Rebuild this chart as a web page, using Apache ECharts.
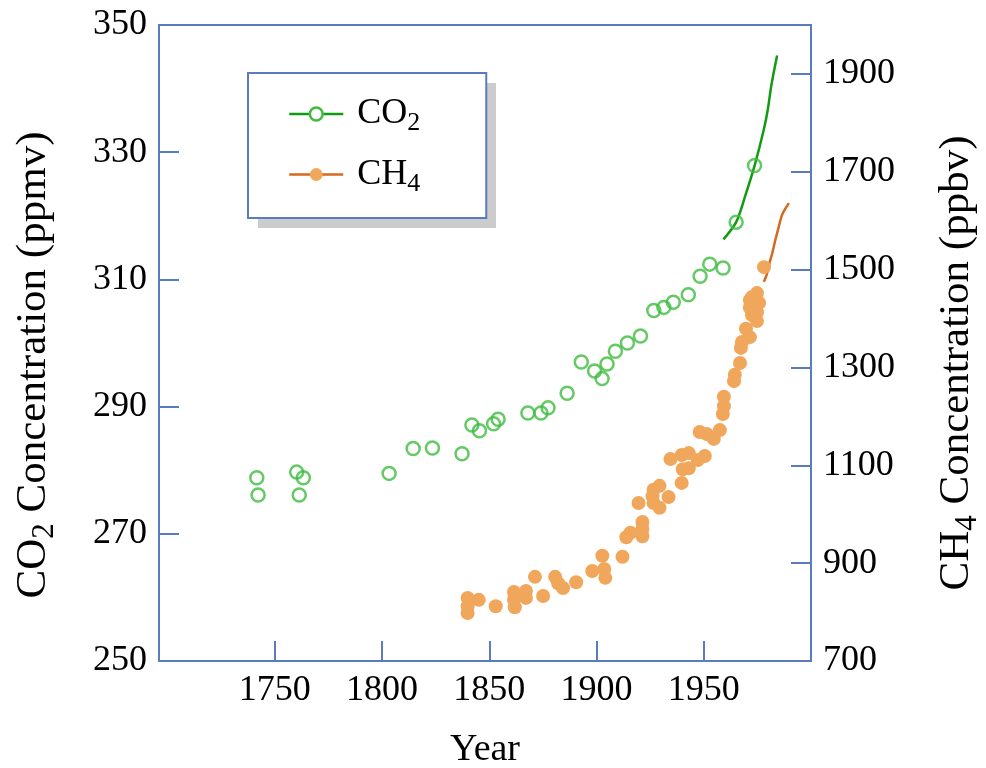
<!DOCTYPE html>
<html><head><meta charset="utf-8">
<script src="https://cdn.jsdelivr.net/npm/echarts@6/dist/echarts.min.js"></script>
<style>html,body{margin:0;padding:0;background:#fff}#c{width:986px;height:768px}</style>
</head><body><div id="c"></div>
<script>
// ---- data ----
const xTickYears = [1750, 1800, 1850, 1900, 1950];
const co2TickValues = [250, 270, 290, 310, 330, 350];
const ch4TickValues = [700, 900, 1100, 1300, 1500, 1700, 1900];

const co2Points = [[1741.6,278.8],[1742.2,276.1],[1760.2,279.7],[1763.3,278.8],[1761.4,276.1],[1803.3,279.5],[1814.5,283.4],[1823.5,283.5],[1837.3,282.6],[1841.9,287.1],[1845.4,286.2],[1852.0,287.3],[1854.1,288.0],[1868.0,289.0],[1874.1,289.0],[1877.4,289.8],[1886.3,292.1],[1892.9,297.0],[1899.1,295.6],[1902.6,294.4],[1904.9,296.7],[1908.8,298.7],[1914.4,300.0],[1920.5,301.1],[1926.7,305.1],[1931.4,305.6],[1935.8,306.4],[1942.8,307.6],[1948.3,310.5],[1952.8,312.4],[1959.0,311.8],[1965.1,319.0],[1973.7,327.9]];

const co2Line = [[1959.2,316.3],[1965.1,319.0],[1969.3,323.1],[1973.7,327.9],[1977.9,333.4],[1979.9,336.8],[1981.5,340.5],[1984.2,345.2]];

const ch4Points = [[1839.9,829],[1839.9,812],[1839.9,798],[1845.1,825],[1853.0,812],[1861.5,841],[1861.5,825],[1861.9,810],[1867.1,843],[1867.1,829],[1871.3,872],[1875.1,833],[1880.7,872],[1882.1,859],[1884.4,849],[1890.5,861],[1898.0,884],[1902.7,915],[1903.6,888],[1904.1,870],[1912.1,913],[1913.9,953],[1915.8,962],[1919.6,1023],[1921.4,984],[1921.4,970],[1921.4,955],[1926.1,1037],[1926.6,1050],[1926.6,1023],[1929.4,1058],[1929.4,1013],[1933.6,1035],[1934.5,1113],[1939.7,1121],[1939.7,1064],[1940.2,1092],[1943.0,1094],[1943.0,1125],[1947.2,1111],[1950.5,1119],[1948.1,1168],[1951.4,1164],[1954.7,1154],[1957.5,1172],[1958.9,1205],[1959.4,1221],[1959.4,1240],[1964.1,1272],[1964.5,1285],[1966.9,1309],[1967.3,1340],[1967.8,1352],[1969.7,1379],[1971.5,1362],[1974.8,1395],[1972.5,1407],[1974.8,1413],[1971.5,1422],[1973.4,1428],[1975.8,1432],[1971.5,1438],[1972.5,1444],[1974.8,1452],[1978.1,1505]];

const ch4Line = [[1978.0,1475],[1979.5,1492],[1980.6,1513],[1981.9,1533],[1983.4,1561],[1985.0,1588],[1986.5,1612],[1988.1,1625],[1989.7,1636]];

// ---- styling ----
const FONT = '"Liberation Serif", "DejaVu Serif", serif';
const AXIS = '#5b7bc0';
const CO2_LINE = '#139a13';
const CO2_MARK = '#3fbb3f';
const CH4_LINE = '#d4691f';
const CH4_MARK = '#f0a75c';
const plain = v => String(v);

const chart = echarts.init(document.getElementById('c'), null, {renderer: 'canvas'});
const sub = {fontSize: 26, fontFamily: FONT, color: '#000', padding: [19, 0, 0, 0]};
const main = {fontSize: 36, fontFamily: FONT, color: '#000'};
const titleRich = {
  b: {fontSize: 43, fontFamily: FONT, color: '#000'},
  s: {fontSize: 31, fontFamily: FONT, color: '#000', padding: [22, 0, 0, 0]}
};

chart.setOption({
  animation: false,
  backgroundColor: '#fff',
  grid: {left: 159, right: 175, top: 25, bottom: 107, containLabel: false, outerBoundsMode: 'none',
         show: true, borderColor: AXIS, borderWidth: 2, backgroundColor: 'transparent'},
  graphic: [
    {type: 'rect', left: 258, top: 83, shape: {width: 238, height: 145}, style: {fill: '#cccccc'}, z: 1, silent: true}
  ],
  legend: {
    orient: 'vertical', left: 248, top: 73, z: 5,
    selectedMode: false,
    data: [
      {name: 'CO2', itemStyle: {color: '#fff', borderColor: CO2_MARK, borderWidth: 2.5}, lineStyle: {color: CO2_LINE, width: 2.5}},
      {name: 'CH4', itemStyle: {color: CH4_MARK, borderWidth: 0}, lineStyle: {color: CH4_LINE, width: 2.5}}
    ],
    formatter: n => n === 'CO2' ? '{b|CO}{s|2}' : '{b|CH}{s|4}',
    textStyle: {fontFamily: FONT, fontSize: 36, color: '#000', padding: [0, 0, 0, 9], rich: {b: main, s: sub}},
    itemWidth: 54, itemHeight: 16, itemGap: 20,
    padding: [23, 66, 21, 40],
    backgroundColor: '#fff', borderColor: AXIS, borderWidth: 2, borderRadius: 0
  },
  xAxis: {
    type: 'value', min: 1696, max: 2000,
    name: 'Year', nameLocation: 'middle', nameGap: 70,
    nameTextStyle: {fontFamily: FONT, fontSize: 38, color: '#000'},
    axisLine: {show: true, lineStyle: {color: AXIS, width: 2}},
    axisTick: {show: true, inside: true, length: 20, customValues: xTickYears, lineStyle: {color: AXIS, width: 2}},
    axisLabel: {customValues: xTickYears, formatter: plain, fontFamily: FONT, fontSize: 36, color: '#000', margin: 12},
    splitLine: {show: false}
  },
  yAxis: [
    {
      type: 'value', min: 250, max: 350, position: 'left',
      name: '{b|CO}{s|2}{b| Concentration (ppmv)}', nameLocation: 'middle', nameRotate: 90, nameGap: 99,
      nameTextStyle: {fontFamily: FONT, fontSize: 43, color: '#000', padding: [0, 44, 0, 0], rich: titleRich},
      axisLine: {show: true, lineStyle: {color: AXIS, width: 2}},
      axisTick: {show: true, inside: true, length: 20, customValues: co2TickValues, lineStyle: {color: AXIS, width: 2}},
      axisLabel: {customValues: co2TickValues, formatter: plain, fontFamily: FONT, fontSize: 36, color: '#000', margin: 12},
      splitLine: {show: false}
    },
    {
      type: 'value', min: 700, max: 2000, position: 'right',
      name: '{b|CH}{s|4}{b| Concentration (ppbv)}', nameLocation: 'middle', nameRotate: 90, nameGap: 119,
      nameTextStyle: {fontFamily: FONT, fontSize: 43, color: '#000', padding: [0, 40, 0, 0], rich: titleRich},
      axisLine: {show: true, lineStyle: {color: AXIS, width: 2}},
      axisTick: {show: true, inside: true, length: 20, customValues: ch4TickValues, lineStyle: {color: AXIS, width: 2}},
      axisLabel: {customValues: ch4TickValues, formatter: plain, fontFamily: FONT, fontSize: 36, color: '#000', margin: 12},
      splitLine: {show: false}
    }
  ],
  series: [
    {name: 'CO2', type: 'line', data: co2Line, yAxisIndex: 0, smooth: 0.3, symbol: 'circle', showSymbol: false,
     lineStyle: {color: CO2_LINE, width: 2.5}, itemStyle: {color: CO2_LINE}, z: 2},
    {name: 'CH4', type: 'line', data: ch4Line, yAxisIndex: 1, smooth: 0.3, symbol: 'circle', showSymbol: false,
     lineStyle: {color: CH4_LINE, width: 2.5}, itemStyle: {color: CH4_LINE}, z: 2},
    {name: 'CO2', type: 'scatter', data: co2Points, yAxisIndex: 0, symbol: 'circle', symbolSize: 13,
     itemStyle: {color: 'rgba(255,255,255,0)', borderColor: CO2_MARK, borderWidth: 2.5}, z: 3},
    {name: 'CH4', type: 'scatter', data: ch4Points, yAxisIndex: 1, symbol: 'circle', symbolSize: 14,
     itemStyle: {color: CH4_MARK, opacity: 1}, z: 3}
  ]
});
</script>
</body></html>
